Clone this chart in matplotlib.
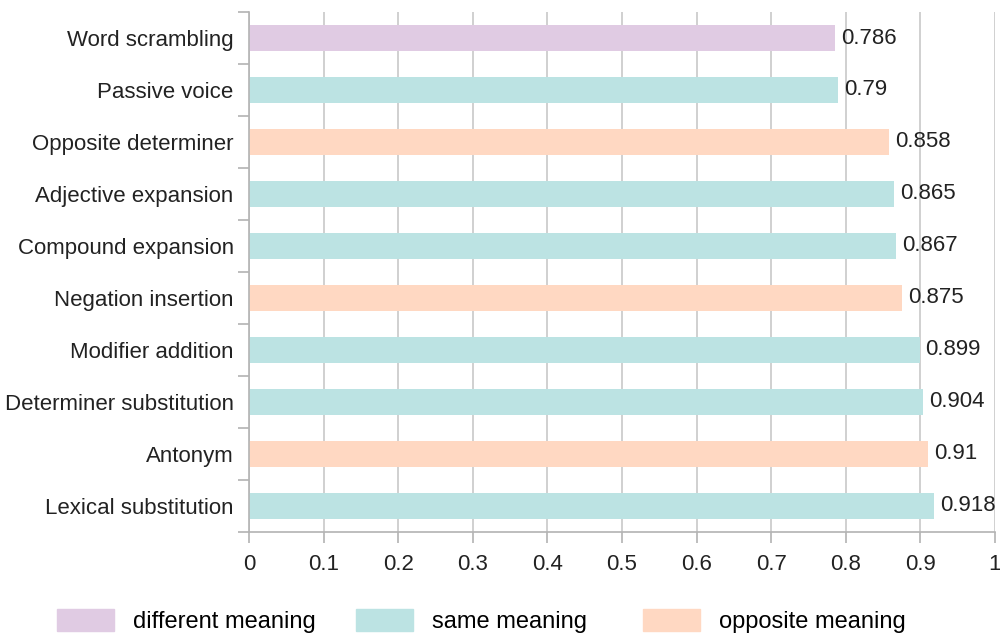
import matplotlib.pyplot as plt
import matplotlib.patches as mpatches
import numpy as np

plt.rcParams['font.family'] = ['Liberation Sans', 'DejaVu Sans']

categories = ['Word scrambling', 'Passive voice', 'Opposite determiner',
              'Adjective expansion', 'Compound expansion', 'Negation insertion',
              'Modifier addition', 'Determiner substitution', 'Antonym',
              'Lexical substitution']
values = [0.786, 0.79, 0.858, 0.865, 0.867, 0.875, 0.899, 0.904, 0.91, 0.918]
kinds = ['different', 'same', 'opposite', 'same', 'same', 'opposite',
         'same', 'same', 'opposite', 'same']
kind_labels = {'different': 'different meaning', 'same': 'same meaning',
               'opposite': 'opposite meaning'}
colors = {'different': '#e0cbe3', 'same': '#bce3e3', 'opposite': '#ffd8c2'}

fig = plt.figure(figsize=(10, 6.33), dpi=100)
ax = fig.add_axes([0.249, 0.16, 0.746, 0.821])

n = len(categories)
y = np.arange(n)[::-1]
ax.barh(y, values, height=0.5, color=[colors[k] for k in kinds], zorder=2)
for yi, v in zip(y, values):
    ax.text(v + 0.008, yi, f'{v:g}', va='center', ha='left', fontsize=16,
            color='#222222')

ax.set_xlim(0, 1)
ax.set_ylim(-0.5, n - 0.5)
ax.set_xticks(np.arange(0, 1.01, 0.1))
ax.set_xticklabels(['0'] + [f'{t:.1f}' for t in np.arange(0.1, 0.95, 0.1)] + ['1'])
ax.set_yticks(y)
ax.set_yticklabels(categories)
ax.set_yticks(np.arange(-0.5, n, 1), minor=True)
ax.tick_params(axis='y', which='major', length=0, pad=11, labelsize=16,
               labelcolor='#222222')
ax.tick_params(axis='y', which='minor', length=8, color='#b3b3b3', width=1.2)
ax.tick_params(axis='x', which='major', length=8, color='#b3b3b3', width=1.2,
               labelsize=16, labelcolor='#222222', pad=8)
ax.grid(axis='x', color='#c8c8c8', linewidth=1.2, zorder=0)
ax.set_axisbelow(True)
for s in ['top', 'right']:
    ax.spines[s].set_visible(False)
for s in ['left', 'bottom']:
    ax.spines[s].set_color('#b3b3b3')
    ax.spines[s].set_linewidth(1.2)

# one legend per entry, placed like the original
legend_x = [0.057, 0.356, 0.643]
for k, lx in zip(['different', 'same', 'opposite'], legend_x):
    h = mpatches.Patch(color=colors[k], label=kind_labels[k])
    leg = fig.legend(handles=[h], loc='lower left', bbox_to_anchor=(lx, 0.0),
                     frameon=False, fontsize=17, handlelength=2.4,
                     handleheight=1.05, handletextpad=0.8, borderpad=0,
                     borderaxespad=0)

fig.savefig('out.png', dpi=100)
